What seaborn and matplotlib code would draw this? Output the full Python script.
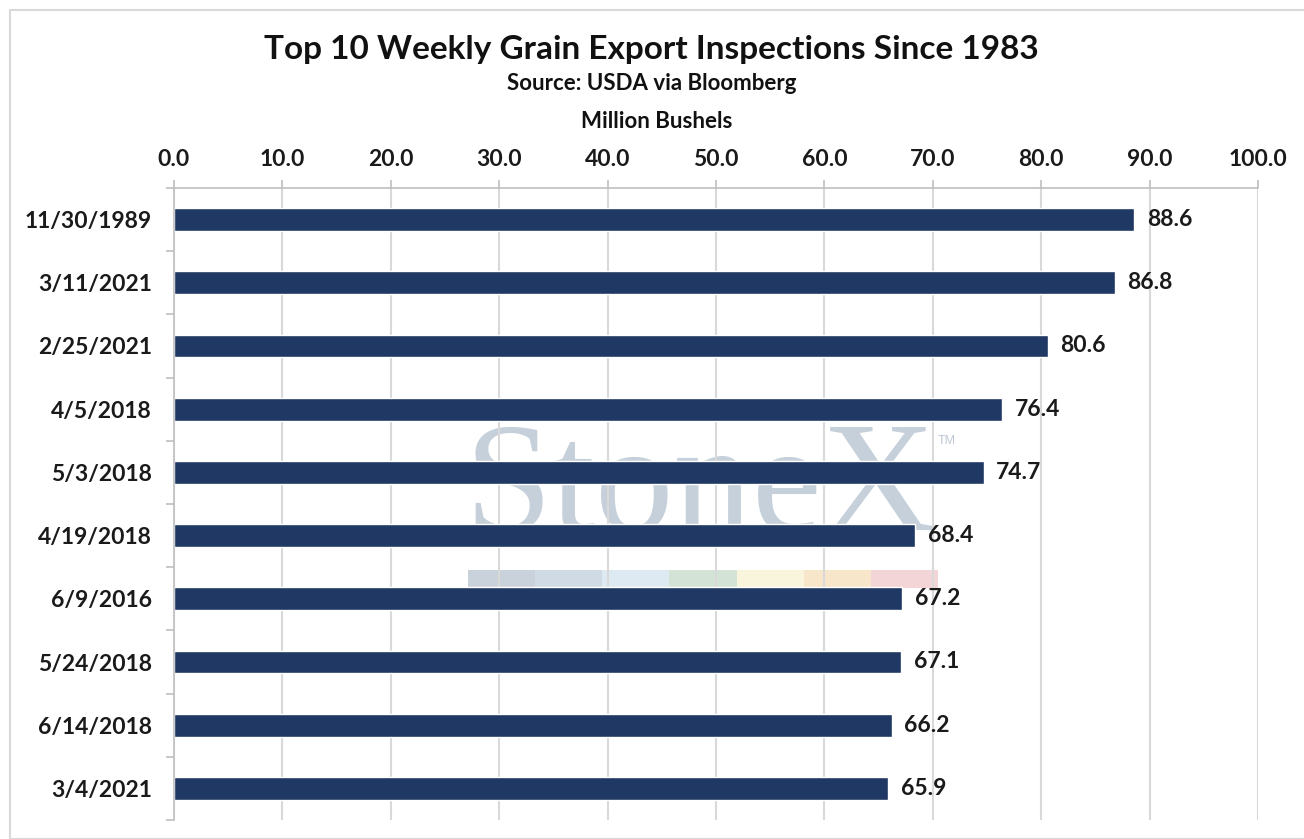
"""
Top 10 semanas de inspecciones de exportación de grano desde 1983.
Barras horizontales, eje X arriba, marca de agua StoneX al fondo.
"""

import matplotlib
matplotlib.use("Agg")
import matplotlib.pyplot as plt
from matplotlib.patches import Rectangle
from matplotlib.ticker import FixedLocator
import seaborn as sns
import pandas as pd

# Datos
fechas = ["11/30/1989", "3/11/2021", "2/25/2021", "4/5/2018", "5/3/2018",
          "4/19/2018", "6/9/2016", "5/24/2018", "6/14/2018", "3/4/2021"]
bushels = [88.6, 86.8, 80.6, 76.4, 74.7, 68.4, 67.2, 67.1, 66.2, 65.9]
ticks_x = [0, 10, 20, 30, 40, 50, 60, 70, 80, 90, 100]

titulo = "Top 10 Weekly Grain Export Inspections Since 1983"
subtitulo = "Source: USDA via Bloomberg"
unidad = "Million Bushels"

# colores de la franja del logo
franja = ["#C9D1DA", "#D0DAE5", "#DEEAF2", "#D3E4D6", "#F8F5DC", "#F8E6CA", "#F3D5D7"]

df = pd.DataFrame({"Fecha": fechas, "Bushels": bushels})

sns.set_theme(style="white")
plt.rcParams["font.family"] = ["Lato", "DejaVu Sans"]
plt.rcParams["font.weight"] = "bold"

fig = plt.figure(figsize=(13.04, 8.39), dpi=100)
ax = fig.add_axes([174 / 1304, 1 - 820 / 839, 1084 / 1304, 632 / 839])
ax.set_facecolor("white")

sns.barplot(data=df, x="Bushels", y="Fecha", orient="h", color="#203864",
            width=0.36, saturation=1, ax=ax, zorder=2)
ax.bar_label(ax.containers[0], fmt="%.1f", padding=9, fontsize=16.5,
             fontweight="bold", color="#1a1a1a")

ax.set_xlim(0, 100)
ax.set_ylim(9.5, -0.5)
ax.xaxis.tick_top()
ax.xaxis.set_label_position("top")
ax.set_xticks(ticks_x)
ax.set_xticklabels([f"{t:.1f}" for t in ticks_x], fontsize=16.5, fontweight="bold",
                   color="#1a1a1a")
ax.set_yticks(range(len(fechas)))
ax.set_yticklabels(fechas, fontsize=16.5, fontweight="bold", color="#1a1a1a")
ax.yaxis.set_minor_locator(FixedLocator([i - 0.5 for i in range(len(fechas) + 1)]))
ax.tick_params(axis="y", which="major", length=0, pad=16)
ax.tick_params(axis="y", which="minor", length=6, width=1.2, color="#BFBFBF", left=True)
ax.tick_params(axis="x", which="major", length=6, width=1.2, color="#BFBFBF",
               top=True, pad=7)
ax.set_xlabel("")
ax.set_ylabel("")

ax.grid(axis="x", color="#D9D9D9", linewidth=1.5)
ax.set_axisbelow(True)
for lado in ["bottom", "right"]:
    ax.spines[lado].set_visible(False)
for lado in ["top", "left"]:
    ax.spines[lado].set_color("#BFBFBF")
    ax.spines[lado].set_linewidth(1.2)

# marca de agua
ax.text(0.485, 0.459, "StoneX", transform=ax.transAxes, ha="center", va="baseline",
        fontsize=113, family="Liberation Serif", fontweight="normal",
        color="#BCC8D5", alpha=0.85, zorder=0.3)
ax.text(0.713, 0.60, "TM", transform=ax.transAxes, ha="center", va="center",
        fontsize=9, family="Liberation Sans", fontweight="normal",
        color="#BCC8D5", zorder=0.3)
ancho = 0.4336 / len(franja)
for i, c in enumerate(franja):
    ax.add_patch(Rectangle((0.2712 + i * ancho, 0.367), ancho, 0.0285,
                           transform=ax.transAxes, facecolor=c, edgecolor="none",
                           zorder=0.3))

# textos de cabecera
fig.text(651 / 1304, 1 - 49 / 839, titulo, ha="center", va="center", fontsize=24,
         fontweight="bold", color="#111111")
fig.text(652 / 1304, 1 - 84 / 839, subtitulo, ha="center", va="center", fontsize=16,
         fontweight="bold", color="#111111")
fig.text(657 / 1304, 1 - 121 / 839, unidad, ha="center", va="center", fontsize=16,
         fontweight="bold", color="#111111")

# borde del gráfico
fig.patches.append(Rectangle((10 / 1304, 0), 1.0, 1 - 10 / 839, transform=fig.transFigure,
                             facecolor="none", edgecolor="#D9D9D9", linewidth=1.5))

fig.savefig("out.png", dpi=100)
